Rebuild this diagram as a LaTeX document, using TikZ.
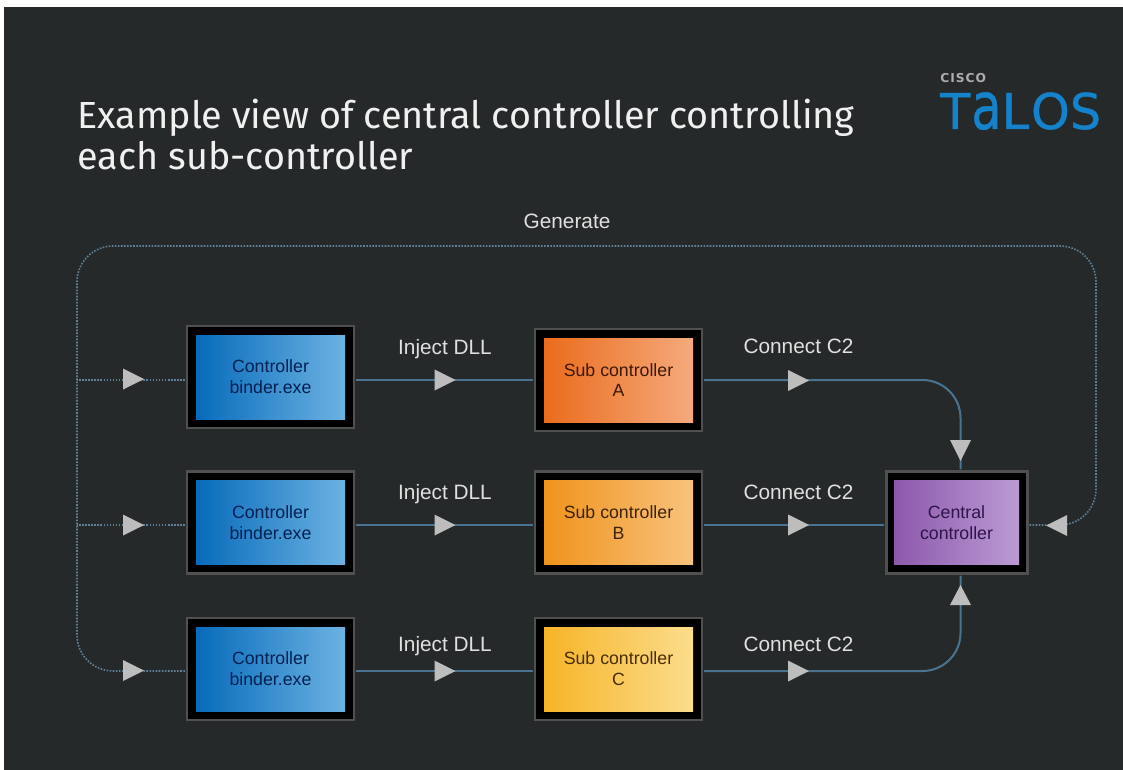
\documentclass[tikz,border=0pt]{standalone}
\usepackage{fontspec}
\setmainfont{Liberation Sans}
\newfontfamily\titlefont{Fira Sans}
\newfontfamily\logofont[FakeBold=0.7]{DejaVu Sans}
\newfontfamily\ciscofont[LetterSpace=8]{DejaVu Sans Bold}
\usetikzlibrary{calc}
\definecolor{bgdark}{HTML}{25292A}
\definecolor{lineblue}{HTML}{4A7390}
\definecolor{dotblue}{HTML}{5F8199}
\definecolor{tipgray}{HTML}{BDBDBD}
\definecolor{boxedge}{HTML}{505050}
\definecolor{logoblue}{HTML}{1583CB}
\tikzset{
  x=0.75pt,y=-0.75pt,
  framebox/.style={draw=boxedge,line width=1.9pt,fill=black,minimum width=167*0.75pt,minimum height=102*0.75pt,inner sep=0pt,outer sep=1.6pt},
  facebox/.style={minimum width=149*0.75pt,minimum height=84*0.75pt,inner sep=0pt,align=center,font=\fontsize{13.3pt}{15.6pt}\selectfont},
  bluestyle/.style={left color={rgb,255:red,7;green,107;blue,186},right color={rgb,255:red,108;green,178;blue,226},text={rgb,255:red,2;green,32;blue,80}},
  solidlink/.style={draw=lineblue,line width=1.5pt,rounded corners=28.5pt},
  dotlink/.style={draw=dotblue,line width=1.2pt,dash pattern=on 1.2pt off 1.1pt,rounded corners=27pt},
  edgelabel/.style={anchor=base,text=white!88!black,font=\fontsize{15.6pt}{18pt}\selectfont,inner sep=0pt},
  titletext/.style={anchor=base west,inner sep=0pt,text=white!94!black,font=\titlefont\fontsize{28.3pt}{30pt}\selectfont},
  tipshape/.style={fill=tipgray,draw=none}
}
\newcommand{\tipright}[2]{\fill[tipshape] (#1-10.5,#2-10.5) -- (#1+10.5,#2) -- (#1-10.5,#2+10.5) -- cycle;}
\newcommand{\tipleft}[2]{\fill[tipshape] (#1+10.5,#2-10.5) -- (#1-10.5,#2) -- (#1+10.5,#2+10.5) -- cycle;}
\newcommand{\tipdown}[2]{\fill[tipshape] (#1-10.5,#2-10.5) -- (#1+10.5,#2-10.5) -- (#1,#2+10.5) -- cycle;}
\newcommand{\tipup}[2]{\fill[tipshape] (#1-10.5,#2+10) -- (#1+10.5,#2+10) -- (#1,#2-10) -- cycle;}
\begin{document}
\begin{tikzpicture}
\useasboundingbox (0,0) rectangle (1123,770);
\fill[white] (0,0) rectangle (1123,770);
\fill[bgdark] (4,7) rectangle (1123,770);

\node[titletext] (t1) at (77.5,128) {Example view of central controller controlling};
\node[titletext] (t2) at (77.5,169.5) {each sub-controller};

\node[anchor=base west,inner sep=0pt,text=white!68!black,text height=7pt,text depth=0pt,font=\ciscofont\fontsize{9.2pt}{10pt}\selectfont] (cisco) at (940,83) {CISCO};
\node[anchor=base west,inner sep=0pt,text=logoblue,text height=26pt,text depth=0pt,font=\logofont\fontsize{37pt}{38pt}\selectfont] (talos) at (940,129) {T\kern0.02em\scalebox{1}[1.33]{a}L\kern0.04em OS};

\node[edgelabel] (gen) at (567,228) {Generate};

% boxes
\node[framebox] (b1) at (270.5,377) {};
\node[facebox,bluestyle] (b1f) at (270.5,377) {Controller\\binder.exe};
\node[framebox] (b2) at (270.5,522.5) {};
\node[facebox,bluestyle] (b2f) at (270.5,522.5) {Controller\\binder.exe};
\node[framebox] (b3) at (270.5,669) {};
\node[facebox,bluestyle] (b3f) at (270.5,669) {Controller\\binder.exe};

\node[framebox] (a) at (618.5,380) {};
\node[facebox,left color={rgb,255:red,234;green,108;blue,28},right color={rgb,255:red,245;green,170;blue,125},text={rgb,255:red,60;green,25;blue,5}] (af) at (618.5,380) {Sub controller\\A};
\node[framebox] (b) at (618.5,522.5) {};
\node[facebox,left color={rgb,255:red,240;green,147;blue,28},right color={rgb,255:red,248;green,195;blue,125},text={rgb,255:red,60;green,35;blue,5}] (bf) at (618.5,522.5) {Sub controller\\B};
\node[framebox] (c) at (618.5,669) {};
\node[facebox,left color={rgb,255:red,247;green,180;blue,40},right color={rgb,255:red,252;green,221;blue,140},text={rgb,255:red,70;green,45;blue,5}] (cf) at (618.5,669) {Sub controller\\C};
\node[framebox,minimum width=141*0.75pt] (cc) at (957,522.5) {};
\node[facebox,minimum width=125*0.75pt,left color={rgb,255:red,141;green,88;blue,172},right color={rgb,255:red,187;green,155;blue,212},text={rgb,255:red,45;green,20;blue,75}] (ccf) at (956.5,522.5) {Central\\controller};

% port levels
\coordinate (r1) at (0,380);
\coordinate (r2) at (0,525);
\coordinate (r3) at (0,671);
\coordinate (vx) at (960.5,0);
\coordinate (dl) at (77,0);
\coordinate (dr) at (1096,0);
\coordinate (dt) at (0,246);

% solid links
\draw[solidlink] (b1.east |- r1) -- (a.west |- r1);
\draw[solidlink] (b2.east |- r2) -- (b.west |- r2);
\draw[solidlink] (b3.east |- r3) -- (c.west |- r3);
\draw[solidlink] (b.east |- r2) -- (cc.west |- r2);
\draw[solidlink] (a.east |- r1) -- (vx |- r1) -- (vx |- cc.north);
\draw[solidlink] (c.east |- r3) -- (vx |- r3) -- (vx |- cc.south);

% dotted links
\draw[dotlink] (b1.west |- r1) -- (dl |- r1);
\draw[dotlink] (b2.west |- r2) -- (dl |- r2);
\draw[dotlink] (b3.west |- r3) -- (dl |- r3) -- (dl |- dt) -- (dr |- dt) -- (dr |- r2) -- (cc.east |- r2);

% arrow tips
\tipright{133.5}{379}
\tipright{133.5}{525}
\tipright{133.5}{670.5}
\tipright{445}{380}
\tipright{445}{525}
\tipright{445}{671}
\tipright{798.5}{380.5}
\tipright{798.5}{525}
\tipright{798.5}{671}
\tipdown{960.5}{450.5}
\tipup{960.5}{595}
\tipleft{1056.5}{525.5}

\node[edgelabel] (i1) at (445,354) {Inject DLL};
\node[edgelabel] (i2) at (445,499) {Inject DLL};
\node[edgelabel] (i3) at (445,651) {Inject DLL};
\node[edgelabel] (c1) at (798.5,353) {Connect C2};
\node[edgelabel] (c2) at (798.5,499) {Connect C2};
\node[edgelabel] (c3) at (798.5,651) {Connect C2};
\end{tikzpicture}
\end{document}
